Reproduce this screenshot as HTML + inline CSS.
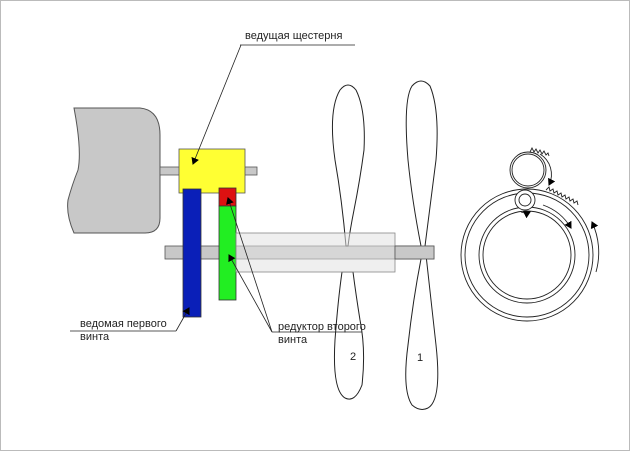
<!DOCTYPE html>
<html><head><meta charset="utf-8"><style>
html,body{margin:0;padding:0;background:#fff}
svg{display:block}
text{font-family:"Liberation Sans","DejaVu Sans",sans-serif;font-size:11px;fill:#222}
</style></head><body>
<svg width="630" height="451" viewBox="0 0 630 451" xmlns="http://www.w3.org/2000/svg">
<defs>
<marker id="ah" markerWidth="8" markerHeight="8" refX="6" refY="4" orient="auto" markerUnits="userSpaceOnUse">
<path d="M0,0 L7,4 L0,8 Z" fill="#000"/></marker>
</defs>
<rect x="0.5" y="0.5" width="629" height="450" fill="#fff" stroke="#bbb"/>
<path d="M74,108 L140,108 Q160,110 160,135 L160,218 Q160,233 145,233 L74,233 Q66,215 68,200 Q72,185 78,170 Q82,150 74,108 Z" fill="#c8c8c8" stroke="#555" stroke-width="1"/>
<rect x="160" y="167" width="97" height="8" fill="#c8c8c8" stroke="#555" stroke-width="0.8"/>
<rect x="179" y="149" width="66" height="44" fill="#ffff33" stroke="#555" stroke-width="0.8"/>
<rect x="165" y="246" width="269" height="13" fill="#c8c8c8" stroke="#555" stroke-width="0.8"/>
<rect x="183" y="189" width="18" height="128" fill="#0a1fb8" stroke="#333" stroke-width="0.8"/>
<rect x="219" y="188" width="17" height="18" fill="#dd1111" stroke="#333" stroke-width="0.8"/>
<rect x="219" y="206" width="17" height="94" fill="#22ee22" stroke="#333" stroke-width="0.8"/>
<path d="M346,246 Q342,200 335,160 Q328,110 340,90 Q348,80 356,90 Q366,110 364,150 Q360,180 354,210 Q350,230 348,246 Z" fill="#fff" stroke="#222"/>
<path d="M342,272 Q338,300 335,340 Q332,390 345,398 Q355,403 362,385 Q366,350 360,320 Q356,295 353,272 Z" fill="#fff" stroke="#222"/>
<path d="M421,246 Q412,200 408,160 Q403,100 412,86 Q421,76 430,86 Q440,110 436,160 Q431,200 425,246 Q431,300 436,345 Q442,400 428,408 Q420,412 412,405 Q402,390 408,345 Q413,300 421,259 Z" fill="#fff" stroke="#222"/>
<rect x="236" y="233" width="159" height="39" fill="rgba(225,225,225,0.55)" stroke="#888" stroke-width="0.8"/>
<rect x="395" y="246" width="39" height="13" fill="#c8c8c8" stroke="#555" stroke-width="0.8"/>
<text x="350" y="360">2</text>
<text x="417" y="361">1</text>
<text x="245" y="39">ведущая щестерня</text>
<line x1="240" y1="45" x2="355" y2="45" stroke="#222" stroke-width="0.8"/>
<line x1="241" y1="45" x2="193" y2="164" stroke="#222" stroke-width="0.8" marker-end="url(#ah)"/>
<text x="80" y="327">ведомая первого</text>
<text x="80" y="340">винта</text>
<line x1="70" y1="331" x2="176" y2="331" stroke="#222" stroke-width="0.8"/>
<line x1="176" y1="331" x2="189" y2="308" stroke="#222" stroke-width="0.8" marker-end="url(#ah)"/>
<text x="278" y="330">редуктор второго</text>
<text x="278" y="343">винта</text>
<line x1="272" y1="332" x2="362" y2="332" stroke="#222" stroke-width="0.8"/>
<line x1="272" y1="332" x2="228" y2="198" stroke="#222" stroke-width="0.8" marker-end="url(#ah)"/>
<line x1="272" y1="332" x2="229" y2="255" stroke="#222" stroke-width="0.8" marker-end="url(#ah)"/>
<g fill="none" stroke="#222" stroke-width="0.9">
<circle cx="527" cy="255" r="66"/>
<circle cx="527" cy="255" r="62"/>
<circle cx="527" cy="255" r="48"/>
<circle cx="527" cy="255" r="44"/>
<circle cx="528" cy="170" r="18"/>
<circle cx="528" cy="170" r="16"/>
<circle cx="525" cy="200" r="10" fill="#fff"/>
<circle cx="525" cy="200" r="6"/>
<path d="M530,152 l2,-4 l2,4 l2,-3 l2,4 l2,-3 l2,4 l2,-3 l2,4 l2,-2 l1,3"/>
<path d="M546,190 l3,-3 l1,4 l3,-2 l1,4 l3,-2 l1,4 l3,-2 l1,4 l3,-2 l1,4 l3,-2 l1,4 l3,-2 l1,4 l3,-2 l1,4"/>
<path d="M540,154 A24,24 0 0 1 549,185" marker-end="url(#ah)"/>
<path d="M543,205 A53,53 0 0 1 571,228" marker-end="url(#ah)"/>
<path d="M521,212 Q526,214 530,212" marker-end="url(#ah)"/>
<path d="M596,272 A72,72 0 0 0 592,222" marker-end="url(#ah)"/>
</g>
</svg>
</body></html>
